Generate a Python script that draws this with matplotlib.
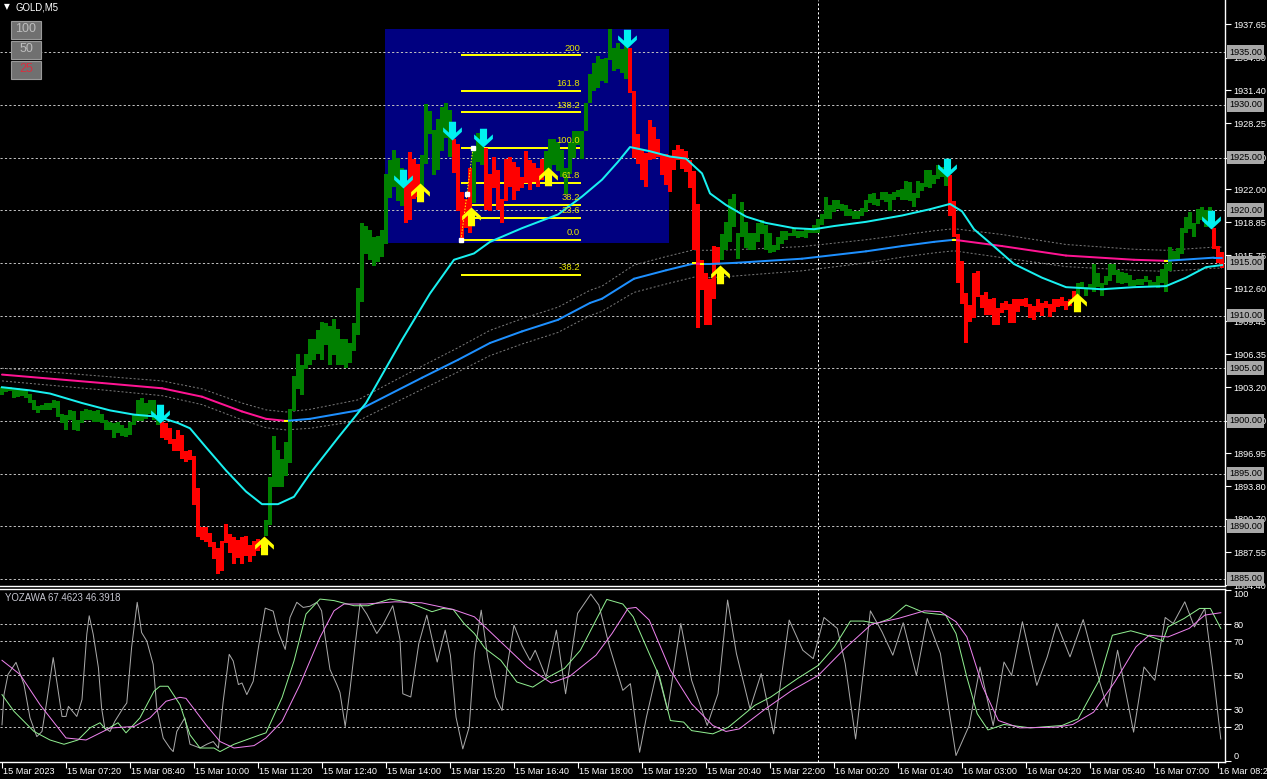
import numpy as np
import matplotlib
matplotlib.use("Agg")
import matplotlib.pyplot as plt
from matplotlib.path import Path
from matplotlib.markers import MarkerStyle
from matplotlib.patches import Rectangle
import matplotlib.transforms as mtrans

plt.rcParams['font.family'] = ['Liberation Sans', 'DejaVu Sans']

# ---------------- data (GOLD M5, Heiken-Ashi style bodies) ----------------
ha_open = [
    1902.5, 1902.7, 1902.8, 1902.2, 1902.3, 1902.4, 1902.2, 1901.7, 1901.0, 1900.8,
    1901.0, 1901.0, 1901.0, 1901.2, 1900.4, 1899.8, 1899.1, 1900.1, 1899.1, 1899.0,
    1899.8, 1900.1, 1900.1, 1899.9, 1899.9, 1899.8, 1899.1, 1899.1, 1898.4, 1898.9,
    1898.6, 1898.5, 1898.7, 1899.6, 1900.0, 1900.0, 1900.2, 1900.7, 1900.1, 1899.6,
    1899.9, 1899.8, 1899.3, 1898.3, 1899.1, 1898.7, 1897.1, 1897.2, 1896.7, 1893.6,
    1889.9, 1889.9, 1889.4, 1888.5, 1887.9, 1888.6, 1890.2, 1889.3, 1889.0, 1888.7,
    1889.0, 1889.1, 1888.2, 1888.6, 1888.8, 1888.6, 1889.1, 1890.1, 1893.7, 1893.7,
    1893.7, 1894.8, 1896.0, 1900.9, 1903.0, 1902.5, 1904.9, 1905.3, 1905.8, 1906.4,
    1905.8, 1907.2, 1905.3, 1906.3, 1905.3, 1905.3, 1905.0, 1905.5, 1906.6, 1908.2,
    1911.3, 1915.8, 1915.3, 1914.7, 1915.1, 1915.6, 1916.8, 1921.2, 1922.2, 1920.9,
    1920.4, 1922.5, 1925.5, 1924.9, 1924.4, 1921.8, 1924.4, 1927.2, 1923.3, 1923.8,
    1925.6, 1926.9, 1925.1, 1926.8, 1926.3, 1921.7, 1921.1, 1924.0, 1920.7, 1924.6,
    1924.3, 1925.9, 1923.4, 1925.1, 1923.8, 1921.1, 1924.9, 1925.1, 1924.6, 1924.1,
    1923.2, 1925.6, 1924.8, 1924.5, 1924.0, 1924.9, 1923.7, 1923.7, 1924.3, 1923.7,
    1923.2, 1921.5, 1923.4, 1925.0, 1926.2, 1924.9, 1927.5, 1930.2, 1931.3, 1931.6,
    1932.3, 1932.1, 1934.3, 1933.2, 1933.4, 1933.0, 1932.5, 1935.4, 1931.3, 1927.2,
    1925.7, 1925.4, 1928.6, 1927.9, 1926.8, 1925.3, 1925.3, 1925.1, 1925.7, 1926.2,
    1925.8, 1925.6, 1924.8, 1923.7, 1920.6, 1915.3, 1914.0, 1913.5, 1916.6, 1916.5,
    1915.3, 1916.2, 1917.0, 1918.4, 1915.4, 1917.5, 1916.4, 1916.2, 1916.2, 1917.0,
    1917.7, 1916.2, 1915.9, 1916.0, 1916.2, 1916.8, 1917.2, 1917.6, 1917.6, 1917.4,
    1917.5, 1917.4, 1917.8, 1917.8, 1917.8, 1918.6, 1919.2, 1919.2, 1919.8, 1920.1,
    1919.9, 1919.5, 1919.5, 1919.2, 1919.2, 1919.5, 1919.8, 1920.7, 1920.5, 1920.4,
    1921.0, 1920.8, 1919.9, 1921.0, 1921.3, 1921.0, 1921.0, 1920.9, 1920.3, 1921.2,
    1921.8, 1922.2, 1922.1, 1922.5, 1923.0, 1923.2, 1922.3, 1923.3, 1920.9, 1917.7,
    1915.2, 1912.1, 1911.0, 1914.0, 1914.2, 1912.0, 1912.2, 1911.6, 1911.7, 1910.7,
    1911.2, 1911.4, 1911.1, 1911.6, 1911.6, 1911.6, 1911.7, 1911.1, 1910.9, 1911.6,
    1911.2, 1911.4, 1911.1, 1911.6, 1911.6, 1911.8, 1911.4, 1911.6, 1912.3, 1912.0,
    1912.6, 1911.9, 1912.5, 1912.2, 1912.7, 1911.9, 1912.9, 1913.3, 1913.9, 1913.1,
    1913.0, 1913.1, 1912.8, 1912.8, 1912.9, 1912.9, 1913.2, 1912.8, 1912.8, 1912.6,
    1913.1, 1912.2, 1914.2, 1915.3, 1915.3, 1915.8, 1917.8, 1918.2, 1917.5, 1918.7,
    1919.1, 1918.4, 1918.7, 1918.3, 1916.6, 1916.0,
]
ha_close = [
    1903.2, 1903.2, 1903.2, 1903.0, 1903.1, 1903.0, 1902.9, 1902.6, 1902.0, 1901.4,
    1901.5, 1901.7, 1901.7, 1902.0, 1901.9, 1900.7, 1900.6, 1901.0, 1900.9, 1900.1,
    1900.9, 1901.1, 1901.0, 1900.9, 1901.0, 1900.7, 1900.1, 1899.9, 1899.8, 1899.9,
    1899.6, 1899.3, 1899.9, 1900.7, 1902.0, 1902.2, 1901.7, 1902.0, 1902.0, 1900.1,
    1898.4, 1898.2, 1897.8, 1897.1, 1897.1, 1896.4, 1896.1, 1896.3, 1892.0, 1889.0,
    1888.7, 1888.5, 1888.0, 1886.9, 1885.5, 1885.8, 1888.4, 1887.5, 1886.4, 1887.0,
    1886.4, 1887.2, 1886.6, 1887.2, 1887.7, 1887.9, 1890.6, 1894.7, 1898.6, 1897.2,
    1896.4, 1898.0, 1901.1, 1904.3, 1906.4, 1905.3, 1906.4, 1907.8, 1907.8, 1908.6,
    1909.4, 1909.3, 1909.0, 1909.7, 1908.7, 1907.8, 1907.8, 1907.4, 1909.3, 1912.6,
    1918.8, 1918.5, 1918.1, 1917.5, 1917.6, 1918.1, 1923.4, 1924.8, 1925.7, 1925.0,
    1924.0, 1918.8, 1919.1, 1921.1, 1921.3, 1925.2, 1930.1, 1929.4, 1927.6, 1928.7,
    1929.8, 1930.2, 1929.5, 1923.5, 1919.9, 1917.3, 1918.3, 1917.8, 1926.0, 1927.3,
    1926.8, 1920.0, 1919.9, 1922.1, 1920.0, 1918.8, 1920.9, 1922.2, 1921.0, 1921.8,
    1922.1, 1922.6, 1921.9, 1922.7, 1922.2, 1922.9, 1925.6, 1926.8, 1926.8, 1926.5,
    1925.7, 1924.0, 1926.5, 1927.5, 1927.5, 1927.5, 1930.2, 1932.9, 1934.0, 1934.6,
    1934.4, 1934.5, 1937.2, 1935.4, 1935.9, 1935.3, 1936.6, 1931.1, 1925.0, 1924.4,
    1922.9, 1922.2, 1924.8, 1924.9, 1925.1, 1923.3, 1922.4, 1921.7, 1923.8, 1924.8,
    1923.9, 1923.6, 1922.1, 1916.2, 1908.8, 1912.4, 1909.1, 1909.1, 1911.6, 1914.8,
    1917.7, 1918.9, 1921.1, 1921.5, 1917.8, 1920.8, 1918.9, 1917.8, 1917.8, 1918.8,
    1919.1, 1918.6, 1917.8, 1916.7, 1917.5, 1918.0, 1918.0, 1917.8, 1918.3, 1918.0,
    1918.0, 1918.2, 1918.3, 1918.6, 1919.2, 1919.6, 1921.3, 1920.5, 1921.0, 1921.0,
    1920.6, 1920.5, 1920.1, 1919.9, 1919.9, 1920.2, 1921.0, 1921.5, 1921.6, 1921.1,
    1921.7, 1921.7, 1921.5, 1921.7, 1921.9, 1922.0, 1922.8, 1922.7, 1921.6, 1922.8,
    1922.6, 1923.8, 1923.8, 1923.3, 1924.3, 1924.1, 1923.7, 1919.5, 1917.5, 1913.1,
    1911.1, 1907.4, 1909.4, 1909.8, 1911.8, 1910.7, 1910.1, 1910.1, 1909.1, 1909.1,
    1910.2, 1910.5, 1909.3, 1909.3, 1910.3, 1910.9, 1910.8, 1909.8, 1909.6, 1910.3,
    1910.0, 1910.7, 1909.9, 1910.3, 1910.8, 1910.9, 1910.5, 1910.9, 1911.6, 1913.1,
    1913.2, 1912.7, 1913.0, 1914.9, 1914.0, 1913.1, 1913.8, 1914.9, 1914.9, 1914.3,
    1914.1, 1914.0, 1913.9, 1913.4, 1913.5, 1913.5, 1913.8, 1913.4, 1913.2, 1913.8,
    1914.4, 1914.9, 1916.5, 1916.1, 1916.4, 1918.3, 1919.4, 1919.8, 1918.8, 1920.1,
    1920.3, 1920.0, 1920.3, 1916.3, 1915.0, 1914.5,
]

fast_ma_bar = [0, 7, 12, 20, 27, 33, 39, 44, 47, 51, 56, 61, 65, 69, 73, 77, 84, 91, 100, 107,
               113, 118, 122, 130, 139, 145, 150, 154, 157, 162, 167, 171, 175, 177, 181, 186,
               191, 198, 203, 208, 216, 225, 232, 237, 240, 243, 247, 253, 260, 266, 275, 283,
               291, 296, 301, 305]
fast_ma_val = [1903.2, 1902.9, 1902.6, 1901.7, 1901.0, 1900.6, 1900.4, 1899.8, 1899.3, 1897.5,
               1895.3, 1893.3, 1892.1, 1892.1, 1892.8, 1895.0, 1898.4, 1901.7, 1907.7, 1912.1,
               1915.3, 1915.9, 1917.0, 1918.3, 1919.6, 1921.3, 1922.9, 1924.6, 1926.0, 1925.6,
               1925.1, 1924.9, 1923.5, 1921.6, 1920.5, 1919.4, 1918.8, 1918.3, 1918.2, 1918.5,
               1918.9, 1919.5, 1920.1, 1920.6, 1919.9, 1918.2, 1916.9, 1914.9, 1913.6, 1912.7,
               1912.5, 1912.7, 1912.8, 1913.6, 1914.6, 1914.8]

slow_ma_bar = [0, 25, 40, 50, 60, 66, 71, 77, 89, 105, 114, 122, 130, 139, 147, 150, 158, 166,
               173, 175, 177, 183, 200, 216, 225, 233, 238, 250, 266, 283, 291, 303, 305]
slow_ma_val = [1904.4, 1903.6, 1903.1, 1902.3, 1900.9, 1900.2, 1900.0, 1900.2, 1901.0, 1904.1,
               1905.8, 1907.4, 1908.5, 1909.6, 1911.2, 1911.6, 1913.5, 1914.3, 1914.95, 1914.9,
               1914.9, 1915.0, 1915.4, 1916.1, 1916.6, 1917.0, 1917.2, 1916.6, 1915.7, 1915.3,
               1915.2, 1915.5, 1915.5]
band_half = [0.6, 0.65, 0.7, 0.75, 0.8, 0.85, 0.85, 0.9, 1.0, 1.1, 1.15, 1.2, 1.2, 1.2, 1.2,
             1.2, 1.3, 1.3, 1.3, 1.3, 1.3, 1.25, 1.15, 1.1, 1.05, 1.05, 1.05, 1.1, 1.05, 1.0,
             1.0, 1.0, 1.0]

down_arrow_bar = [39.5, 100.25, 112.4, 120.2, 156.2, 236.2, 302.2]
down_arrow_price = [1899.8, 1922.1, 1926.7, 1926.0, 1935.4, 1923.2, 1918.2]
up_arrow_bar = [65.5, 104.5, 117.3, 136.5, 179.5, 268.7]
up_arrow_price = [1889.1, 1922.6, 1920.3, 1924.1, 1914.8, 1912.1]

fib_levels = [200.0, 161.8, 138.2, 100.0, 61.8, 38.2, 23.6, 0.0, -38.2]
fib_labels = ["200", "161.8", "138.2", "100.0", "61.8", "38.2", "23.6", "0.0", "-38.2"]
fib_low_price = 1917.2
fib_high_price = 1925.95
fib_low_bar = 114.75
fib_high_bar = 117.75
fib_end_bar = 144.75
box_bar_range = [95.75, 166.75]
box_price_range = [1916.9, 1937.2]

hline_prices = [1885, 1890, 1895, 1900, 1905, 1910, 1915, 1920, 1925, 1930, 1935]
price_ticks = [1937.65, 1934.50, 1931.40, 1928.25, 1925.00, 1922.00, 1918.85, 1915.75,
               1912.60, 1909.45, 1906.35, 1903.20, 1900.00, 1896.95, 1893.80, 1890.70,
               1887.55, 1884.40]
ind_levels = [20, 30, 50, 70, 80]
ind_ticks = [100, 80, 70, 50, 30, 20, 0]
time_tick_bars = list(range(0, 305, 16))
time_labels = ["15 Mar 2023", "15 Mar 07:20", "15 Mar 08:40", "15 Mar 10:00", "15 Mar 11:20",
               "15 Mar 12:40", "15 Mar 14:00", "15 Mar 15:20", "15 Mar 16:40", "15 Mar 18:00",
               "15 Mar 19:20", "15 Mar 20:40", "15 Mar 22:00", "16 Mar 00:20", "16 Mar 01:40",
               "16 Mar 03:00", "16 Mar 04:20", "16 Mar 05:40", "16 Mar 07:00", "16 Mar 08:20"]
day_separator_bar = 204

# YOZAWA oscillator: (bar, value) pairs
osc_fast = [
    (0, 21), (0.5, 38.7), (1.5, 50.5), (3.5, 57.6), (5.5, 44.6), (7, 25.1), (8.7, 14.1),
    (10, 17.1), (11.2, 34.8), (12.8, 60.4), (15, 25.9), (16, 25.9), (16.6, 31.8),
    (18.7, 25.9), (20, 35.8), (21.2, 74.1), (21.8, 84.9), (22.8, 74.1), (24.1, 54.5),
    (24.9, 30.9), (25.7, 19.1), (27, 17.1), (28.2, 23), (30.3, 30.9), (31.2, 33.8),
    (32.4, 66.3), (33.8, 92.8), (34.9, 75.1), (36.2, 70.1), (37.8, 56.4), (38.7, 30.9),
    (40.3, 13.2), (42, 7.3), (42.8, 5.3), (43.7, 17.1), (45.7, 25.1), (47, 9.6), (49.5, 7.4),
    (51.2, 9.6), (52.8, 11.2), (54.1, 7.4), (55.3, 34.8), (56.8, 62.3), (57.8, 58.4),
    (59.1, 44.6), (60, 45.5), (61.2, 38.7), (62.8, 46.5), (64.1, 66.3), (65.8, 89.4),
    (67.8, 87.6), (69.1, 75.1), (70.8, 65.2), (72, 83.9), (73.7, 92.8), (75.3, 89.8),
    (77, 90.5), (78.7, 92.8), (79.9, 87.8), (80.8, 72.1), (82, 53.4), (83.7, 44.6),
    (84.5, 39.9), (85.8, 20), (87, 41.6), (88.3, 68.2), (89.5, 91.8), (91.2, 85.9),
    (93.7, 74.5), (95.3, 80), (97.7, 90.8), (99.5, 71.1), (100.2, 39.2), (102.2, 37.3),
    (104.2, 68.6), (106.2, 85.3), (108.8, 57.8), (110.8, 76.5), (112.1, 61.8),
    (113.5, 25.5), (115.2, 6.9), (116.8, 19.6), (118.1, 62.8), (119.8, 88.2),
    (121.4, 60.8), (123.4, 37.3), (125, 29.4), (126.4, 56.9), (128, 79.4), (130, 67.6),
    (132, 58.8), (133.3, 64.7), (136, 49.0), (138.6, 76.5), (140.9, 39.2), (143.9, 86.3),
    (147.2, 97.6), (149.2, 91.2), (151.9, 66.7), (155.2, 41.2), (157.1, 45.1),
    (159.4, 4.9), (161.1, 25.5), (163.8, 53.0), (166.4, 29.4), (169.7, 80.4),
    (172.4, 47.1), (176.3, 20.6), (179, 39.2), (181.4, 94.1), (183.6, 62.8), (187, 30.4),
    (189.8, 51.0), (192.9, 15.7), (196.8, 82.4), (200.2, 64.7), (202.8, 59.8),
    (205.5, 83.9), (208.8, 77.5), (210.8, 56.9), (213.4, 12.7), (217.1, 87.8),
    (220, 75.5), (222.7, 61.8), (225.3, 80.8), (228.6, 50.0), (231.3, 83.3), (234.6, 62.8),
    (238.5, 3.0), (241.8, 20.6), (244.5, 54.9), (247.8, 20.6), (250.5, 57.8),
    (252.4, 50.0), (255.1, 81.4), (258.7, 44.1), (261.3, 60.8), (263.7, 80.4), (267, 60.8),
    (270.3, 82.7), (274.3, 47.1), (276.3, 31.4), (278.9, 64.7), (282.9, 16.7),
    (285.5, 54.9), (288.2, 47.1), (290.8, 83.9), (292.8, 80.4), (295.7, 93.1),
    (298.1, 78.4), (300.7, 89.2), (302.7, 53.0), (304.7, 12.7),
]
osc_k = [
    (0, 38.7), (3, 28.9), (8, 17.1), (12, 12.1), (15.5, 9.6), (19, 12.1), (22, 19.2),
    (24.5, 22.2), (26, 18.1), (29, 22.2), (31, 16.3), (34.5, 25.1), (38, 40.7), (39.5, 43.6),
    (41.5, 43.6), (44.5, 32.8), (47, 15.1), (49.5, 7.4), (53, 7.4), (54.5, 5.3), (58, 9.6),
    (64.5, 15.1), (66, 16.3), (70, 36.9), (73, 58.4), (76, 85.9), (79.5, 94.7), (83, 93.8),
    (88, 90.8), (91.5, 90.8), (97, 94.7), (99.5, 93.8), (102.2, 92.2), (107.5, 87.3),
    (110.2, 89.2), (112.8, 88.6), (115.5, 80.4), (118.1, 74.5), (120.8, 65.7),
    (124.7, 58.8), (128.7, 46.1), (132.7, 43.1), (136.6, 49.0), (140.6, 54.0),
    (144.6, 64.7), (148.5, 82.4), (151.2, 94.5), (155.2, 91.8), (157.8, 84.3),
    (161.8, 62.8), (164.4, 49.0), (167.1, 23.5), (170.4, 22.6), (172.4, 17.6),
    (177.7, 15.7), (181.6, 19.6), (188.2, 32.4), (192.2, 37.3), (198.8, 48.0),
    (204.1, 55.9), (208.1, 66.7), (212.1, 81.8), (215.4, 81.8), (218.7, 80.4), (222, 83.3),
    (226, 91.2), (230.6, 86.7), (235.9, 85.3), (238.5, 74.5), (241.2, 49.0), (243.8, 27.5),
    (246.5, 18.0), (250.5, 21.2), (257.1, 19.2), (265, 20.6), (269, 24.5), (274.3, 47.1),
    (277.6, 73.5), (282.2, 76.1), (286.2, 73.5), (290.2, 70.2), (291.5, 78.4),
    (295.5, 83.3), (299.4, 89.2), (302.1, 89.2), (304.7, 77.5),
]
osc_d = [
    (0, 58.8), (4.5, 50.5), (9.5, 32.8), (16, 13.3), (21, 12.1), (27, 19.1), (33, 20),
    (37, 25.1), (41, 34.8), (44.5, 37.1), (46, 36.5), (51, 21), (54.5, 11.2), (58, 7.4),
    (63, 8.8), (66, 13.3), (70, 23), (74.5, 44.6), (79.5, 72.3), (83, 87.8), (85.5, 91.8),
    (91, 91.8), (98.25, 93.1), (104.9, 92.5), (112.8, 88.6), (118.1, 84.3), (124.7, 69.6),
    (131.3, 54.9), (137.3, 45.5), (141.9, 49.4), (148.5, 61.8), (152.5, 74.5),
    (156.5, 89.2), (158.5, 89.8), (161.8, 82.4), (167.1, 53.0), (172.4, 33.3),
    (177.7, 20.6), (181, 17.1), (184.3, 18.6), (190.9, 30.4), (197.5, 41.2), (204.1, 50.0),
    (210.7, 65.7), (217.4, 80.0), (224, 83.3), (230.6, 87.8), (234.6, 87.3), (238.5, 81.4),
    (241.2, 72.6), (245.2, 43.1), (249.1, 23.5), (254.4, 19.2), (263.7, 19.6),
    (267.7, 21.2), (272.9, 28.4), (278.2, 46.1), (283.5, 66.7), (286.8, 73.5),
    (291.5, 72.5), (296.8, 77.5), (300.7, 85.3), (304.7, 86.7),
]
osc_title = "YOZAWA 67.4623 46.3918"

# ---------------- figure layout (pixel based) ----------------
W, H = 1267, 779
BG = "black"
fig = plt.figure(figsize=(W / 100, H / 100), dpi=100, facecolor=BG)


def px_axes(x0, y0, x1, y1):
    return fig.add_axes([x0 / W, 1 - y1 / H, (x1 - x0) / W, (y1 - y0) / H])


ax = px_axes(0, 0, 1225, 586)
axi = px_axes(0, 589, 1225, 762)
XL = (-0.5, 305.75)
FS = 6.6

for a in (ax, axi):
    a.set_facecolor(BG)
    a.set_xlim(*XL)
    for s in ("left", "top"):
        a.spines[s].set_visible(False)
    for s in ("right", "bottom"):
        a.spines[s].set_color("white")
        a.spines[s].set_linewidth(1.0)
axi.spines["top"].set_visible(True)
axi.spines["top"].set_color("white")
axi.spines["top"].set_linewidth(1.0)

ax.set_ylim(1884.33, 1939.96)
axi.set_ylim(-0.8, 100.6)

LW1 = 0.72   # 1 px
LW2 = 1.44   # 2 px
DASH = (0, (2.2, 2.2))

# ---------- main panel ----------
ax.add_patch(Rectangle((box_bar_range[0], box_price_range[0]),
                       box_bar_range[1] - box_bar_range[0],
                       box_price_range[1] - box_price_range[0],
                       facecolor="#000080", edgecolor="none", zorder=1))

for p in hline_prices:
    ax.axhline(p, color="#BEBEBE", lw=LW1, ls=DASH, zorder=2)
ax.axvline(day_separator_bar, color="white", lw=LW1, ls=DASH, zorder=2)
axi.axvline(day_separator_bar, color="white", lw=LW1, ls=DASH, zorder=2)

rng = fib_high_price - fib_low_price
for lev, lab in zip(fib_levels, fib_labels):
    pr = fib_low_price + lev / 100.0 * rng
    ax.plot([fib_low_bar, fib_end_bar], [pr, pr], color="#FFFF00", lw=LW2, zorder=3,
            solid_capstyle="butt")
    ax.text(fib_end_bar - 0.2, pr + 0.25, lab, color="#E6E600", fontsize=6.8,
            ha="right", va="bottom", zorder=6)

sb = np.array(slow_ma_bar, float)
sv = np.array(slow_ma_val, float)
bh = np.array(band_half, float)
ax.plot(sb, sv + bh, color="#7A7A7A", lw=LW1, ls=(0, (2.0, 2.0)), zorder=3)
ax.plot(sb, sv - bh, color="#7A7A7A", lw=LW1, ls=(0, (2.0, 2.0)), zorder=3)

o = np.array(ha_open)
c = np.array(ha_close)
idx = np.arange(len(o))
lo = np.minimum(o, c)
hi = np.maximum(o, c)
height = np.maximum(hi - lo, 0.12)
cols = np.where(c >= o, "#008000", "#FF0000")
ax.bar(idx, height, bottom=lo, width=0.78, color=cols, linewidth=0, zorder=4)

for k in range(len(sb) - 1):
    col = "#1E90FF" if sv[k + 1] >= sv[k] else "#FF1493"
    ax.plot(sb[k:k + 2], sv[k:k + 2], color=col, lw=LW2, zorder=5,
            solid_capstyle="round")
for k in range(1, len(sb) - 1):
    up_prev = sv[k] >= sv[k - 1]
    up_next = sv[k + 1] >= sv[k]
    if up_prev != up_next:
        ax.plot([sb[k] - 0.5, sb[k] + 0.5], [sv[k], sv[k]], color="#FFFF00", lw=LW2,
                zorder=6, solid_capstyle="butt")

ax.plot(fast_ma_bar, fast_ma_val, color="#19F0F0", lw=LW2, zorder=5)

ax.plot([fib_low_bar, fib_high_bar], [fib_low_price, fib_high_price], color="#FFFF00",
        lw=LW1, ls=(0, (1.5, 1.5)), zorder=6)
ax.plot([fib_low_bar, (fib_low_bar + fib_high_bar) / 2, fib_high_bar],
        [fib_low_price, (fib_low_price + fib_high_price) / 2, fib_high_price],
        ls="none", marker="s", ms=2.5, color="white", zorder=7)

down_v = [(0, 0), (0.5, 0.46), (0.5, 0.7), (0.19, 0.42), (0.19, 1.0), (-0.19, 1.0),
          (-0.19, 0.42), (-0.5, 0.7), (-0.5, 0.46), (0, 0)]
up_v = [(x, -y) for x, y in down_v]
down_m = MarkerStyle(Path(down_v, closed=True))
up_m = MarkerStyle(Path(up_v, closed=True))
ax.plot(down_arrow_bar, down_arrow_price, ls="none", marker=down_m, ms=27,
        color="#00F0F0", markeredgewidth=0, zorder=8)
ax.plot(up_arrow_bar, up_arrow_price, ls="none", marker=up_m, ms=27,
        color="#FFFF00", markeredgewidth=0, zorder=8)

ax.yaxis.tick_right()
ax.set_yticks(price_ticks)
ax.set_yticklabels([f"{p:.2f}" for p in price_ticks])
ax.tick_params(axis="y", colors="white", length=4, width=0.8, labelsize=FS, pad=2)
ax.set_xticks([])

trans_px = mtrans.blended_transform_factory(fig.transFigure, ax.transData)
for p in hline_prices:
    ax.text(1229 / W, p, f"{p:.2f}", transform=trans_px, fontsize=FS, color="black",
            ha="left", va="center", clip_on=False, zorder=20,
            bbox=dict(boxstyle="square,pad=0.25", facecolor="#A8A8A8", edgecolor="none"))

# ---------- oscillator panel ----------
for lv in ind_levels:
    axi.axhline(lv, color="#BEBEBE", lw=LW1, ls=DASH, zorder=2)
for series, col, z in ((osc_fast, "#A9A9A9", 3), (osc_k, "#90EE90", 4),
                       (osc_d, "#EE82EE", 4)):
    xs, ys = zip(*series)
    axi.plot(xs, ys, color=col, lw=LW1, zorder=z)

axi.yaxis.tick_right()
axi.set_yticks(ind_ticks)
axi.set_yticklabels([str(t) for t in ind_ticks])
axi.tick_params(axis="y", colors="white", length=4, width=0.8, labelsize=FS, pad=2)
for t, lab in zip(ind_ticks, axi.get_yticklabels()):
    if t == 100:
        lab.set_va("top")
    elif t == 0:
        lab.set_va("bottom")

axi.set_xticks(time_tick_bars)
axi.set_xticklabels([])
axi.tick_params(axis="x", colors="white", length=4, width=0.8)
trans_t = mtrans.blended_transform_factory(axi.transData, fig.transFigure)
for b, lab in zip(time_tick_bars, time_labels):
    fig.text(b + 0.2, 1 - 771 / H, lab, transform=trans_t, color="white", fontsize=FS,
             ha="left", va="center")

fig.text(5 / W, 1 - 598 / H, osc_title, color="#C8C8D2", fontsize=FS + 0.3, ha="left",
         va="center")

# ---------- header and buttons ----------
fig.text(4 / W, 1 - 7 / H, "\u25BC", color="white", fontsize=5.5, ha="left", va="center",
         family="DejaVu Sans")
fig.text(16 / W, 1 - 7 / H, "GOLD,M5", color="white", fontsize=FS + 0.3, ha="left",
         va="center")

btn_labels = ["100", "50", "25"]
btn_colors = ["#BDBDBD", "#BDBDBD", "#D83040"]
for k, (lab, tc) in enumerate(zip(btn_labels, btn_colors)):
    y0 = 20 + 20 * k
    fig.patches.append(Rectangle((11 / W, 1 - (y0 + 19) / H), 30 / W, 18 / H,
                                 transform=fig.transFigure, facecolor="#707070",
                                 edgecolor="#9A9A9A", linewidth=0.8, zorder=30))
    fig.text(26 / W, 1 - (y0 + 9.5) / H, lab, color=tc, fontsize=9, ha="center",
             va="center", zorder=31)

fig.savefig("out.png", dpi=100, facecolor=BG)
